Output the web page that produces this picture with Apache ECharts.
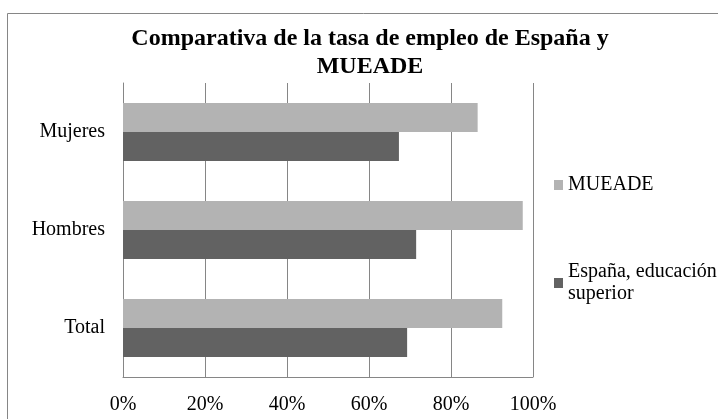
<!DOCTYPE html>
<html>
<head>
<meta charset="utf-8">
<script src="https://cdn.jsdelivr.net/npm/echarts@6/dist/echarts.min.js"></script>
<style>
  html, body { margin: 0; padding: 0; background: #fff; }
  #chart { width: 718px; height: 419px; }
</style>
</head>
<body>
<div id="chart"></div>
<script>
// categories, bottom to top like the original
const categories = ['Total', 'Hombres', 'Mujeres']
const mueade = [92.5, 97.5, 86.5]
const espana = [69.3, 71.5, 67.3]
const xTicks = [0, 20, 40, 60, 80, 100]

const serif = '"Liberation Serif", "DejaVu Serif", serif'
const gridColor = '#868686'

let myChart = echarts.init(document.getElementById('chart'), null, { renderer: 'canvas' })
myChart.setOption({
  animation: false,
  textStyle: { fontFamily: serif, color: '#000' },
  title: {
    text: 'Comparativa de la tasa de empleo de España y\nMUEADE',
    left: 370,
    top: 25,
    padding: 0,
    textAlign: 'center',
    textStyle: {
      fontFamily: serif,
      fontSize: 24,
      fontWeight: 'bold',
      lineHeight: 28,
      color: '#000',
    },
  },
  // outer chart frame
  graphic: [
    {
      type: 'rect',
      shape: { x: 7.5, y: 13.5, width: 760, height: 460 },
      style: { fill: 'none', stroke: gridColor, lineWidth: 1 },
      silent: true,
    },
  ],
  legend: {
    orient: 'vertical',
    left: 549,
    top: 169,
    itemWidth: 9,
    itemHeight: 10,
    itemGap: 54,
    icon: 'rect',
    data: [
      { name: 'MUEADE' },
      { name: 'España, educación superior', textStyle: { padding: [22, 0, 0, 0] } },
    ],
    formatter: (name) => name === 'España, educación superior' ? 'España, educación\nsuperior' : name,
    textStyle: { fontFamily: serif, fontSize: 20, color: '#000', lineHeight: 22 },
  },
  grid: {
    left: 123,
    right: 185,
    top: 83,
    bottom: 42,
  },
  xAxis: {
    type: 'value',
    min: 0,
    max: 100,
    interval: 20,
    axisLine: { show: true, lineStyle: { color: gridColor } },
    axisTick: { show: false },
    axisLabel: {
      margin: 18,
      fontFamily: serif,
      fontSize: 20,
      color: '#000',
      formatter: (v) => xTicks.includes(v) ? v + '%' : '',
    },
    splitLine: { show: true, lineStyle: { color: gridColor, width: 1 } },
  },
  yAxis: {
    type: 'category',
    data: categories,
    axisLine: { show: true, lineStyle: { color: gridColor } },
    axisTick: { show: false },
    axisLabel: { margin: 18, fontFamily: serif, fontSize: 20, color: '#000' },
    splitLine: { show: false },
  },
  series: [
    {
      name: 'MUEADE',
      type: 'bar',
      barWidth: 29,
      barGap: '0%',
      itemStyle: { color: '#b3b3b3' },
      data: mueade,
    },
    {
      name: 'España, educación superior',
      type: 'bar',
      barWidth: 29,
      barGap: '0%',
      itemStyle: { color: '#626262' },
      data: espana,
    },
  ],
})
</script>
</body>
</html>
